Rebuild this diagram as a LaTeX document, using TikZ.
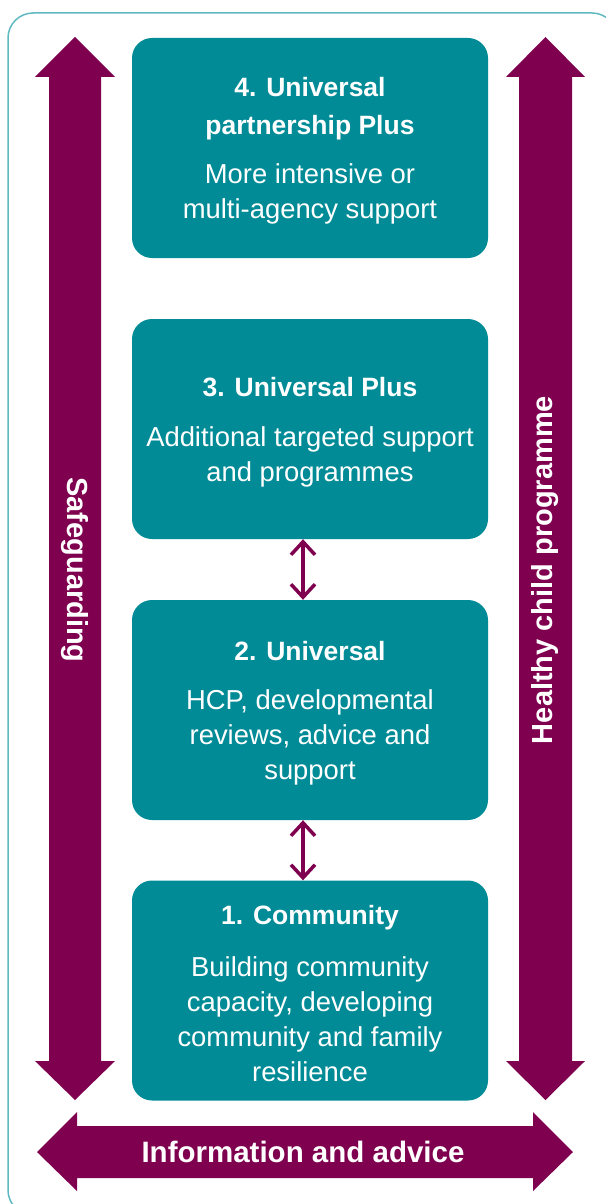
\documentclass[tikz,border=0pt]{standalone}
\usepackage{fontspec}
\setmainfont{Liberation Sans}
\usetikzlibrary{arrows.meta}
\definecolor{boxteal}{RGB}{0,139,150}
\definecolor{maroon}{RGB}{128,0,80}
\definecolor{framecol}{RGB}{95,185,193}
\newcommand{\tiertitle}[1]{{\fontsize{26.5}{35}\selectfont\bfseries #1}}
\begin{document}
\begin{tikzpicture}[x=1pt,y=-1pt,
  tierbox/.style={fill=boxteal, rounded corners=20pt, minimum width=356pt, minimum height=220pt},
  tiertext/.style={text=white, align=center, inner sep=0pt, font=\fontsize{27.4}{35}\selectfont},
  bigarrow/.style={fill=maroon},
  arrowlabel/.style={text=white, font=\bfseries\fontsize{29}{34}\selectfont, inner sep=0pt},
  linkarrow/.style={draw=maroon, line width=3.5pt, {Straight Barb[length=13pt,width=24pt]}-{Straight Barb[length=13pt,width=24pt]}}
]
\useasboundingbox (0,0) rectangle (605,1204);
\draw[framecol, line width=1.5pt, rounded corners=25pt] (8,13) rectangle (617,1215);

% vertical arrows
\fill[bigarrow] (75,37) -- (115,77) -- (101,77) -- (101,1061) -- (115,1061) -- (75,1100)
  -- (35,1061) -- (49,1061) -- (49,77) -- (35,77) -- cycle;
\fill[bigarrow] (545.5,37) -- (585,77) -- (572,77) -- (572,1061) -- (585,1061) -- (545.5,1100)
  -- (506,1061) -- (519,1061) -- (519,77) -- (506,77) -- cycle;
% horizontal arrow
\fill[bigarrow] (37,1152) -- (77,1112) -- (77,1126) -- (533,1126) -- (533,1112) -- (573,1152)
  -- (533,1191) -- (533,1178) -- (77,1178) -- (77,1191) -- cycle;

\node[arrowlabel, rotate=-90] (safe) at (75,570) {Safeguarding};
\node[arrowlabel, rotate=90] (hcp) at (545.5,570) {Healthy child programme};
\node[arrowlabel, font=\bfseries\fontsize{29.5}{34}\selectfont] (info) at (303,1152) {Information and advice};

% boxes
\node[tierbox] (b4) at (310,148) {};
\node[tierbox] (b3) at (310,429) {};
\node[tierbox] (b2) at (310,710) {};
\node[tierbox] (b1) at (310,990.5) {};

\node[tiertext] (t4) at ([yshift=-3pt]b4.center) {\tiertitle{4. Universal}\\[3pt]\tiertitle{partnership Plus}\\[14pt]More intensive or\\multi-agency support};
\node[tiertext] (t3) at ([yshift=-3pt]b3.center) {\tiertitle{3. Universal Plus}\\[15pt]Additional targeted support\\and programmes};
\node[tiertext] (t2) at ([yshift=-3pt]b2.center) {\tiertitle{2. Universal}\\[14pt]HCP, developmental\\reviews, advice and\\support};
\node[tiertext] (t1) at ([yshift=-3pt]b1.center) {\tiertitle{1. Community}\\[17pt]Building community\\capacity, developing\\community and family\\resilience};

\draw[linkarrow] ([xshift=-7pt]b3.south) -- ([xshift=-7pt]b2.north);
\draw[linkarrow] ([xshift=-7pt]b2.south) -- ([xshift=-7pt]b1.north);
\end{tikzpicture}
\end{document}
